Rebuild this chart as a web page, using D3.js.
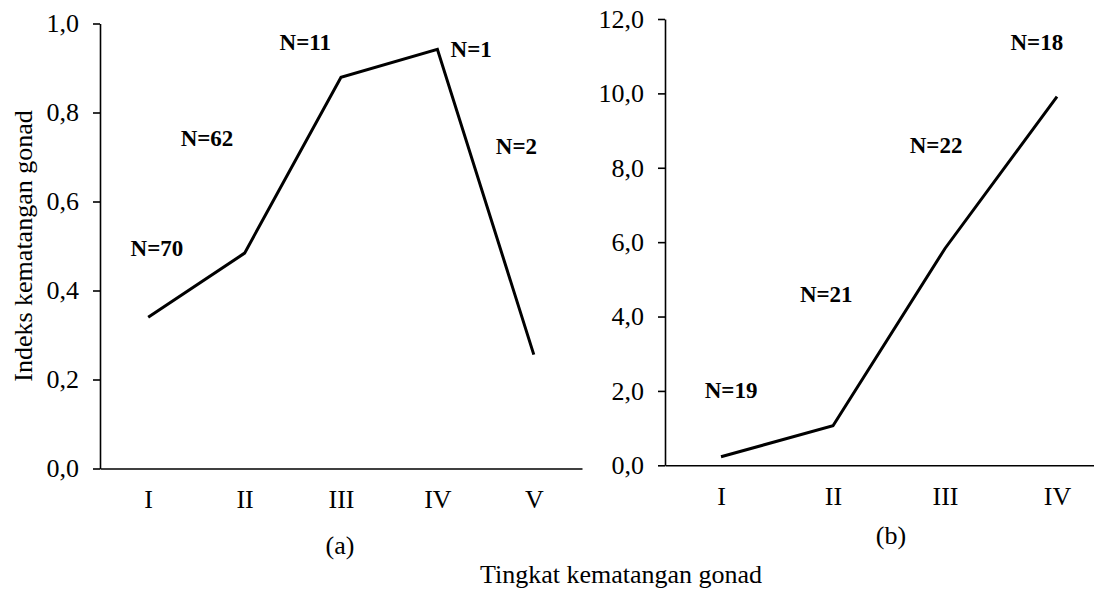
<!DOCTYPE html>
<html>
<head>
<meta charset="utf-8">
<script src="https://cdn.jsdelivr.net/npm/d3@7"></script>
<style>
  body { margin: 0; background: #fff; }
  svg { display: block; font-family: "Liberation Serif", "Times New Roman", serif; }
  .axis text { font-family: "Liberation Serif", "Times New Roman", serif; font-size: 26px; fill: #000; }
  .axis path, .axis line { stroke: #000; stroke-width: 1.6px; }
  .n-label { font-size: 23px; font-weight: bold; }
  .title { font-size: 26px; }
</style>
</head>
<body>
<svg width="1094" height="589"></svg>
<script>
// panel (a)
const stagesA = ['I', 'II', 'III', 'IV', 'V'];
const gsiA = [0.34, 0.484, 0.879, 0.942, 0.256];
const nA = [70, 62, 11, 1, 2];
const ticksA = [0, 0.2, 0.4, 0.6, 0.8, 1.0];
// where the N= notes sit, in data units (stage index, value)
const noteA = [[0.09, 0.495], [0.61, 0.742], [1.63, 0.958], [3.35, 0.942], [3.82, 0.725]];

// panel (b)
const stagesB = ['I', 'II', 'III', 'IV'];
const gsiB = [0.23, 1.065, 5.83, 9.91];
const nB = [19, 21, 22, 18];
const ticksB = [0, 2, 4, 6, 8, 10, 12];
const noteB = [[0.09, 2.02], [0.94, 4.62], [1.92, 8.61], [2.82, 11.39]];

const svg = d3.select('svg');
const fmt = d => d3.format('.1f')(d).replace('.', ',');

const drawPanel = (p) => {
    const x = d3.scalePoint().domain(p.stages).range(p.xRange).padding(0.5);
    const y = d3.scaleLinear().domain([0, p.ticks[p.ticks.length - 1]]).range(p.yRange);
    const xi = i => x(p.stages[0]) + i * x.step();

    const g = svg.append('g');

    g.append('g')
        .attr('class', 'axis')
        .attr('transform', `translate(0,${p.yRange[0]})`)
        .call(d3.axisBottom(x).tickSize(0).tickPadding(21))
        .attr('font-family', null)
        .attr('font-size', null);

    g.append('g')
        .attr('class', 'axis')
        .attr('transform', `translate(${p.xRange[0]},0)`)
        .call(d3.axisLeft(y).tickValues(p.ticks).tickFormat(fmt)
            .tickSize(7).tickSizeOuter(0).tickPadding(14))
        .attr('font-family', null)
        .attr('font-size', null);

    const line = d3.line()
        .x((d, i) => x(p.stages[i]))
        .y(d => y(d));

    g.append('path')
        .attr('fill', 'none')
        .attr('stroke', '#000')
        .attr('stroke-width', 3)
        .attr('d', line(p.values));

    g.selectAll('.n-label')
        .data(p.counts)
        .join('text')
        .attr('class', 'n-label')
        .attr('x', (d, i) => xi(p.notes[i][0]))
        .attr('y', (d, i) => y(p.notes[i][1]))
        .attr('dy', '0.35em')
        .attr('text-anchor', 'middle')
        .text(d => `N=${d}`);

    g.append('text')
        .attr('class', 'title')
        .attr('x', p.capX)
        .attr('y', p.capY)
        .attr('text-anchor', 'middle')
        .text(p.caption);
};

drawPanel({
    stages: stagesA, values: gsiA, counts: nA, ticks: ticksA, notes: noteA,
    xRange: [100, 582], yRange: [468.5, 23.5],
    caption: '(a)', capX: 340, capY: 554
});

drawPanel({
    stages: stagesB, values: gsiB, counts: nB, ticks: ticksB, notes: noteB,
    xRange: [665, 1113], yRange: [465.3, 19],
    caption: '(b)', capX: 891, capY: 544
});

svg.append('text')
    .attr('class', 'title')
    .attr('x', 621)
    .attr('y', 583)
    .attr('text-anchor', 'middle')
    .text('Tingkat kematangan gonad');

svg.append('text')
    .attr('class', 'title')
    .attr('transform', 'translate(32,246) rotate(-90)')
    .attr('text-anchor', 'middle')
    .text('Indeks kematangan gonad');
</script>
</body>
</html>
